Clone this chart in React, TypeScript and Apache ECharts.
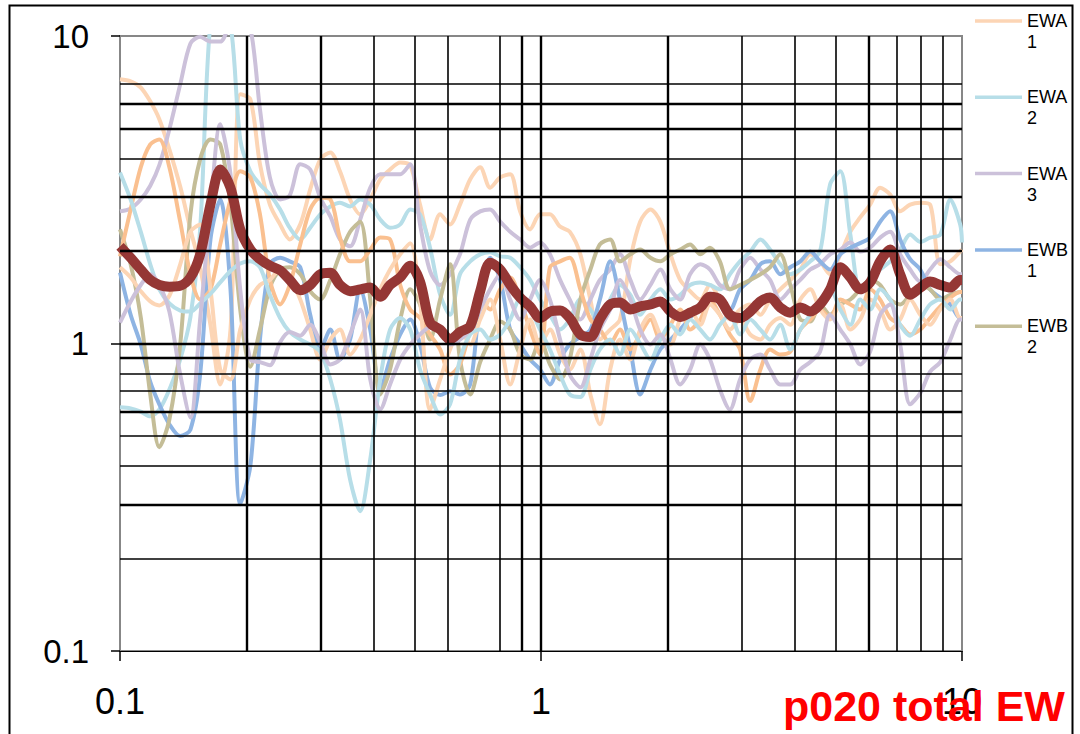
import React, { useEffect, useRef } from "react";
import * as echarts from "echarts";

// Frequencies (shared x grid, log scale 0.1 .. 10)
const freqs = [0.1,0.106,0.112,0.118,0.124,0.131,0.139,0.147,0.155,0.164,0.173,0.183,0.193,0.204,0.215,0.227,0.24,0.253,0.268,0.283,0.299,0.316,0.333,0.352,0.372,0.393,0.415,0.438,0.463,0.489,0.516,0.545,0.576,0.608,0.642,0.679,0.717,0.757,0.8,0.845,0.892,0.942,0.995,1.05,1.11,1.17,1.24,1.31,1.38,1.46,1.54,1.63,1.72,1.82,1.92,2.03,2.14,2.26,2.39,2.52,2.66,2.81,2.97,3.14,3.32,3.5,3.7,3.91,4.13,4.36,4.6,4.86,5.14,5.43,5.73,6.05,6.39,6.75,7.13,7.53,7.96,8.4,8.88,9.38,9.9,10];

const ewa1 = [7.23,7.12,6.80,6.13,5.36,4.28,3.24,2.35,1.77,1.15,0.736,1.11,6.46,6.22,3.83,2.83,2.44,2.18,2.44,3.17,3.97,4.18,3.63,2.94,2.63,2.94,3.42,3.68,3.88,3.80,2.83,2.18,2.63,2.44,2.83,3.42,3.74,3.21,3.47,3.55,2.69,2.35,2.63,
  2.63,2.40,2.31,1.95,1.39,1.03,1.11,1.197,1.88,2.49,2.73,2.49,1.95,1.61,1.48,1.39,1.55,1.39,1.197,1.29,1.34,1.24,1.39,1.50,1.61,1.74,1.95,1.85,1.68,1.95,2.31,2.57,2.83,3.21,3.05,2.69,2.83,2.87,2.83,1.81,1.85,1.99,2.02];
const ewa2 = [0.62,0.615,0.60,0.58,0.61,0.709,0.887,1.22,2.35,11.1,11.75,10.9,4.61,3.63,3.29,3.05,2.73,2.38,2.18,2.38,2.63,2.79,2.87,2.79,2.94,2.83,2.53,2.38,2.44,2.73,2.63,2.05,1.44,1.24,1.68,1.85,1.95,1.98,1.92,1.90,1.77,1.61,1.39,
  1.24,1.11,1.197,1.39,1.29,1.15,1.39,1.55,1.44,1.24,1.39,1.50,1.39,1.44,1.55,1.58,1.55,1.50,1.68,1.85,1.99,2.18,2.02,1.81,1.68,1.74,1.85,1.99,3.29,3.63,2.26,1.50,1.61,1.74,1.85,2.02,2.26,2.14,2.21,2.26,2.94,2.44,2.13];
const ewa3 = [2.69,2.75,2.94,3.26,3.80,4.97,6.96,9.45,9.94,9.59,9.59,10.9,11.3,10.6,5.78,3.47,2.94,3.03,3.83,3.68,2.98,2.59,2.18,2.07,2.53,3.21,3.55,3.55,3.55,3.83,2.44,1.72,1.55,1.68,1.95,2.53,2.69,2.73,2.49,2.31,2.18,2.05,2.13,
  1.95,1.61,1.39,1.197,1.39,1.61,1.74,1.95,1.61,1.39,1.55,1.74,1.50,1.39,1.68,1.81,1.74,1.55,1.50,1.74,1.90,1.74,1.61,1.39,1.50,1.61,1.74,1.81,1.95,2.02,2.13,1.99,2.05,2.21,2.31,1.95,1.74,1.59,1.74,1.88,1.77,1.68,1.68];
const ewb1 = [1.70,1.24,0.993,0.75,0.634,0.546,0.50,0.525,0.793,2.18,2.94,1.50,0.30,0.40,1.03,1.81,1.90,1.85,1.77,1.24,0.956,1.11,0.887,1.03,1.50,1.11,0.709,0.887,1.07,1.197,0.993,0.72,0.68,0.70,0.683,0.736,1.39,1.90,1.61,1.11,0.993,0.887,0.823,
  0.736,0.887,0.993,1.05,1.11,1.39,1.85,1.39,0.956,0.683,0.823,0.956,1.03,1.11,1.21,1.34,1.44,1.39,1.29,1.50,1.61,1.81,1.85,1.68,1.77,1.85,1.99,1.85,1.74,1.95,2.05,2.12,2.21,2.49,2.69,2.18,1.88,1.74,1.50,1.41,1.34,1.21,1.21];
const ewb2 = [2.35,1.81,1.22,0.683,0.46,0.566,0.993,2.63,3.97,4.61,4.44,2.83,1.29,0.84,1.11,1.52,1.74,1.77,1.68,1.48,1.39,1.61,1.95,2.31,2.49,1.39,0.683,0.823,1.197,1.50,1.34,1.03,1.39,1.81,0.887,0.683,0.87,1.03,1.18,1.11,0.921,0.887,1.03,
  0.855,0.764,0.887,1.39,1.74,2.10,2.18,1.85,1.95,2.02,1.90,1.85,1.95,2.02,2.10,1.95,2.05,1.85,1.50,1.55,1.61,1.68,1.77,1.95,1.55,1.197,1.18,1.34,1.24,1.34,1.39,1.50,1.61,1.55,1.39,1.34,1.44,1.55,1.50,1.39,1.44,1.47,1.47];
const ewb3 = [1.92,2.73,3.74,4.44,4.61,3.74,2.49,1.68,1.39,1.50,2.10,2.94,3.63,3.47,2.63,1.61,1.34,1.55,2.10,2.73,2.98,2.94,2.21,1.85,1.85,2.02,2.21,2.18,1.55,1.29,1.21,1.07,0.956,0.793,0.855,1.11,1.39,1.29,1.50,1.64,1.39,1.11,0.921,
  1.77,1.85,1.90,1.50,1.197,1.11,1.00,1.11,0.956,1.07,1.197,1.03,1.15,1.29,1.11,1.197,1.39,1.24,1.07,0.956,0.65,0.823,0.956,0.921,0.94,1.11,1.197,1.29,1.21,1.39,1.34,1.29,1.50,1.39,1.21,1.15,1.07,1.11,1.21,1.32,1.41,1.47,1.47];
const ewc1 = [1.77,1.64,1.48,1.37,1.33,1.43,1.81,2.31,2.44,1.50,0.823,0.764,1.11,1.39,1.55,1.61,1.74,1.64,1.39,1.11,0.887,1.03,1.11,0.921,1.03,1.24,1.50,1.74,1.95,2.12,1.39,0.610,0.764,0.956,1.11,0.993,1.197,1.39,1.03,0.736,0.956,1.197,0.993,
  1.11,0.921,0.823,0.956,0.683,0.546,0.823,1.03,0.887,1.11,1.24,1.07,0.993,1.197,1.29,1.15,1.34,1.24,1.11,1.197,1.07,1.03,1.15,1.21,1.15,1.39,1.50,1.29,1.197,1.34,1.11,1.197,1.39,1.29,1.11,1.197,1.39,1.24,1.15,1.29,1.39,1.21,1.21];
const ewc2 = [3.60,2.94,2.31,1.81,1.50,1.35,1.28,1.27,1.35,1.45,1.58,1.72,1.82,1.85,1.77,1.44,1.21,1.09,1.03,0.993,0.94,0.764,0.566,0.361,0.285,0.42,0.764,1.11,1.21,1.11,0.823,0.683,0.588,0.634,0.887,1.07,1.11,1.03,1.07,1.197,1.39,1.29,1.11,
  0.956,0.793,0.683,0.67,0.823,0.956,1.03,0.921,1.11,1.00,0.887,1.03,1.15,1.07,1.197,1.11,1.03,1.15,1.24,1.07,1.197,1.11,1.03,1.15,0.956,1.11,1.24,1.39,1.50,1.29,1.15,1.39,1.29,1.50,1.39,1.15,1.06,1.197,1.34,1.39,1.29,1.39,1.39];
const ewc3 = [1.17,1.37,1.55,1.68,1.55,1.27,0.793,0.575,1.197,2.73,5.16,3.55,1.50,0.887,0.87,0.85,1.01,1.09,1.06,1.15,1.01,0.855,0.887,1.07,1.29,0.764,0.610,0.736,0.887,0.993,1.07,1.13,1.09,0.993,1.03,1.11,1.29,1.50,1.68,1.39,1.197,1.39,1.61,
  1.39,1.03,0.793,0.72,0.887,1.11,1.29,1.61,1.39,1.11,0.993,1.07,0.887,0.736,0.823,0.993,0.887,0.709,0.610,0.764,0.887,0.921,0.823,0.736,0.736,0.823,0.87,0.94,1.24,1.11,0.993,0.855,0.94,1.24,1.34,0.993,0.634,0.69,0.81,0.87,1.03,1.197,1.197];
const meanEW = [2.07,1.90,1.74,1.61,1.55,1.53,1.54,1.64,1.95,2.83,3.68,3.21,2.35,2.02,1.88,1.79,1.73,1.61,1.49,1.55,1.68,1.70,1.55,1.48,1.50,1.52,1.42,1.55,1.64,1.79,1.59,1.17,1.11,1.03,1.09,1.14,1.48,1.83,1.74,1.55,1.41,1.32,1.21,
  1.27,1.28,1.21,1.07,1.05,1.20,1.34,1.36,1.29,1.32,1.34,1.37,1.27,1.22,1.26,1.31,1.42,1.39,1.24,1.21,1.27,1.37,1.41,1.31,1.26,1.31,1.27,1.34,1.50,1.77,1.64,1.50,1.58,1.85,2.02,1.68,1.44,1.52,1.59,1.55,1.52,1.61,1.61];

const seriesNames = ["EWA 1", "EWA 2", "EWA 3", "EWB 1", "EWB 2", "EWB 3", "EWC 1", "EWC 2", "EWC 3", "Mean"];
const legendNames = ["EWA 1", "EWA 2", "EWA 3", "EWB 1", "EWB 2"];
const xGridValues = [0.2, 0.3, 0.4, 0.5, 0.6, 0.8, 0.9, 1, 2, 3, 4, 5, 6, 7, 8, 9];
const yGridValues = [0.2, 0.3, 0.4, 0.5, 0.6, 0.7, 0.8, 0.9, 1, 2, 3, 4, 5, 6, 7];
const chartTitle = "p020 total EW";

const seriesData = [ewa1, ewa2, ewa3, ewb1, ewb2, ewb3, ewc1, ewc2, ewc3, meanEW];
const seriesColors = ["#FCD5B5", "#B7DEE8", "#CCC1DA", "#8EB4E3", "#C4BD97", "#FAC090", "#FCD5B5", "#B7DEE8", "#CCC1DA", "#953735"];
const heavyX = new Set([0.2, 0.3, 0.9, 1, 2, 6]);
const heavyY = new Set([0.3, 0.6, 0.9, 1, 2, 3, 5, 6]);

const FONT = "'Liberation Sans', Arial, Helvetica, sans-serif";

export default function App() {
  const ref = useRef<HTMLDivElement>(null);

  useEffect(() => {
    if (!ref.current) return;
    const chart = echarts.init(ref.current, null, { renderer: "svg" });
    const fmt = (v: number) => String(parseFloat(Number(v).toPrecision(3)));

    const lines = seriesNames.map((name, k) => ({
      name,
      type: "line",
      data: seriesData[k].map((v, i) => [freqs[i], v]),
      showSymbol: false,
      symbol: "none",
      smooth: 0.3,
      color: seriesColors[k],
      lineStyle: { width: name === "Mean" ? 10 : 4, color: seriesColors[k] },
      z: name === "Mean" ? 4 : 3,
      silent: true,
      emphasis: { disabled: true },
    }));

    const gridSeries = {
      name: "_grid",
      type: "line",
      data: [],
      z: 1,
      silent: true,
      markLine: {
        silent: true,
        symbol: ["none", "none"],
        label: { show: false },
        emphasis: { disabled: true },
        animation: false,
        lineStyle: { color: "#000", type: "solid", width: 1 },
        data: [
          ...xGridValues.map((v) => ({ xAxis: v, lineStyle: { color: "#000", type: "solid", width: heavyX.has(v) ? 2.4 : 1.6 } })),
          ...yGridValues.map((v) => ({ yAxis: v, lineStyle: { color: "#000", type: "solid", width: heavyY.has(v) ? 2.4 : 1.6 } })),
        ],
      },
    };

    chart.setOption({
      animation: false,
      backgroundColor: "#ffffff",
      title: {
        text: chartTitle,
        left: 783,
        top: 684,
        padding: 0,
        z: 20,
        textStyle: { color: "#FF0000", fontSize: 43, fontWeight: "bold", fontFamily: FONT },
      },
      legend: {
        data: legendNames,
        orient: "vertical",
        left: 975,
        top: -10.5,
        padding: 0,
        itemWidth: 47,
        itemHeight: 3.5,
        itemGap: 13.3,
        icon: "rect",
        selectedMode: false,
        formatter: (n: string) => "\u00a0\n" + n.replace(" ", "\n"),
        textStyle: { fontSize: 18, lineHeight: 21, color: "#000", fontFamily: FONT },
      },
      grid: {
        left: 120,
        top: 36,
        width: 842,
        height: 615,
        show: true,
        borderColor: "#878787",
        borderWidth: 2,
        backgroundColor: "#ffffff",
      },
      xAxis: {
        type: "log",
        logBase: 10,
        min: 0.1,
        max: 10,
        axisLine: { show: true, lineStyle: { color: "#000", width: 1 } },
        axisTick: { show: true, length: 10, lineStyle: { color: "#000", width: 1.5 } },
        splitLine: { show: false },
        minorTick: { show: false },
        axisLabel: {
          formatter: fmt,
          margin: 32,
          fontSize: 36,
          color: "#000",
          fontFamily: FONT,
          showMinLabel: true,
          showMaxLabel: true,
        },
      },
      yAxis: {
        type: "log",
        logBase: 10,
        min: 0.1,
        max: 10,
        axisLine: { show: false },
        axisTick: { show: true, length: 9, lineStyle: { color: "#000", width: 1.5 } },
        splitLine: { show: false },
        axisLabel: {
          formatter: fmt,
          margin: 31,
          fontSize: 33,
          color: "#000",
          fontFamily: FONT,
          showMinLabel: true,
          showMaxLabel: true,
        },
      },
      graphic: [
        {
          type: "rect",
          silent: true,
          z: 100,
          shape: { x: 9.5, y: 5.5, width: 1063, height: 740 },
          style: { fill: "none", stroke: "#000", lineWidth: 2 },
        },
      ],
      series: [gridSeries, ...lines],
    });

    return () => chart.dispose();
  }, []);

  return (
    <div
      ref={ref}
      style={{ position: "absolute", left: 0, top: 0, width: 1080, height: 734, background: "#fff" }}
    />
  );
}
